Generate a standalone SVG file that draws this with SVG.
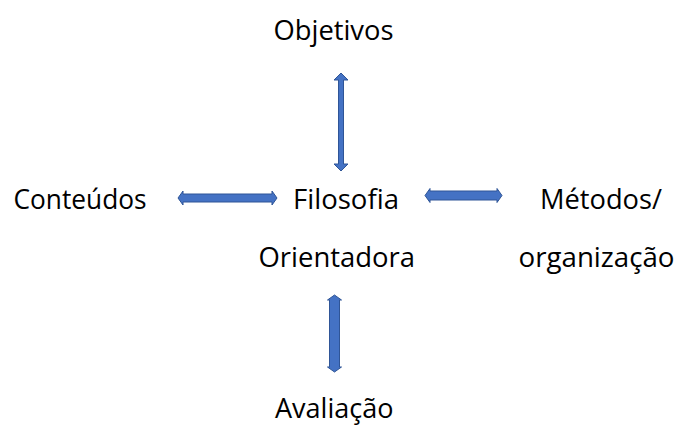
<svg xmlns="http://www.w3.org/2000/svg" width="675" height="430" viewBox="0 0 675 430">
<style>
.t{font-family:"Open Sans","Noto Sans","Liberation Sans",sans-serif;font-size:27px;fill:#000;}
.a{fill:#4472C4;stroke:#2F5597;stroke-width:1;stroke-linejoin:miter;}
</style>
<rect width="675" height="430" fill="#fff"/>
<g id="objetivos"><text class="t" x="273.5" y="39.5" textLength="120" lengthAdjust="spacingAndGlyphs">Objetivos</text></g>
<g id="conteudos"><text class="t" x="13.5" y="209" textLength="133" lengthAdjust="spacingAndGlyphs">Conteúdos</text></g>
<g id="filosofia"><text class="t" x="293" y="209" textLength="106" lengthAdjust="spacingAndGlyphs">Filosofia</text><text class="t" x="258.5" y="267" textLength="156.5" lengthAdjust="spacingAndGlyphs">Orientadora</text></g>
<g id="metodos"><text class="t" x="540" y="209" textLength="122" lengthAdjust="spacingAndGlyphs">Métodos/</text><text class="t" x="518.5" y="267" textLength="156" lengthAdjust="spacingAndGlyphs">organização</text></g>
<g id="avaliacao"><text class="t" x="275" y="418" textLength="118.5" lengthAdjust="spacingAndGlyphs">Avaliação</text></g>
<g id="connectors">
<polygon class="a" points="341,73 348,80 343.5,80 343.5,164 348,164 341,171 334,164 338.5,164 338.5,80 334,80"/>
<polygon class="a" points="178,198 183,191 183,194 272,194 272,191 277,198 272,205 272,202 183,202 183,205"/>
<polygon class="a" points="425,195.5 430,188.5 430,191 497,191 497,188.5 502,195.5 497,202.5 497,200 430,200 430,202.5"/>
<polygon class="a" points="334.5,295 341.5,300 339.5,300 339.5,367 341.5,367 334.5,372 327.5,367 329.5,367 329.5,300 327.5,300"/>
</g>
</svg>
